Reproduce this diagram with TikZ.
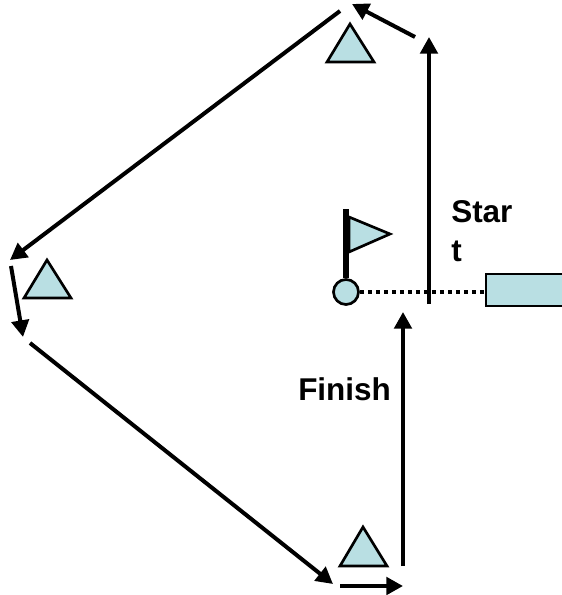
\documentclass[tikz,border=0pt]{standalone}
\usepackage{fontspec}
\setmainfont{Liberation Sans}
\usetikzlibrary{arrows.meta}
\definecolor{aqua}{HTML}{B9DFE3}
\tikzset{
  route/.style={line width=3pt,-{Triangle[length=12.5pt,width=13pt]}},
  aquashape/.style={draw=black,line width=2pt,fill=aqua,line join=miter},
  lab/.style={font=\bfseries\fontsize{23.6pt}{28pt}\selectfont,inner sep=0pt,anchor=base west}
}
\begin{document}
\begin{tikzpicture}[x=0.75pt,y=-0.75pt]
\useasboundingbox (0,0) rectangle (561,595);
% triangles
\draw[aquashape] (350,24) -- (374,62) -- (327,62) -- cycle;
\draw[aquashape] (47,260) -- (71,298) -- (24,298) -- cycle;
\draw[aquashape] (363,527) -- (387,566) -- (340,566) -- cycle;
% flag
\draw[aquashape] (349,217) -- (390,234) -- (349,252) -- cycle;
\coordinate (poletop) at (346,209);
\node[circle,aquashape,minimum size=25*0.75pt,inner sep=0pt] (ball) at (346,292) {};
\draw[line width=4.2pt] (poletop) -- (ball.north);
% start box
\node[aquashape,line width=1.6pt,minimum width=80*0.75pt,minimum height=32*0.75pt,inner sep=0pt,anchor=north west] (box) at (485,273) {};
\draw[line width=3pt,dash pattern=on 3pt off 3pt] (ball.east) -- (ball.east -| box.west);
% route
\coordinate (a0) at (429,304); \coordinate (a1) at (429,37);
\coordinate (b0) at (415,37);  \coordinate (b1) at (352,4);
\coordinate (c0) at (340,11);  \coordinate (c1) at (10,260);
\coordinate (d0) at (11,266);  \coordinate (d1) at (23,337);
\coordinate (e0) at (30,343);  \coordinate (e1) at (333,584);
\coordinate (f0) at (340,586); \coordinate (f1) at (403,586);
\coordinate (g0) at (403,566); \coordinate (g1) at (403,312);
\draw[route] (a0) -- (a1);
\draw[route] (b0) -- (b1);
\draw[route] (c0) -- (c1);
\draw[route] (d0) -- (d1);
\draw[route] (e0) -- (e1);
\draw[route] (f0) -- (f1);
\draw[route] (g0) -- (g1);
% labels
\node[lab] (s1) at (451,222) {Star};
\node[lab] (s2) at (451,261) {t};
\node[lab] (fin) at (298,400) {Finish};
\end{tikzpicture}
\end{document}
